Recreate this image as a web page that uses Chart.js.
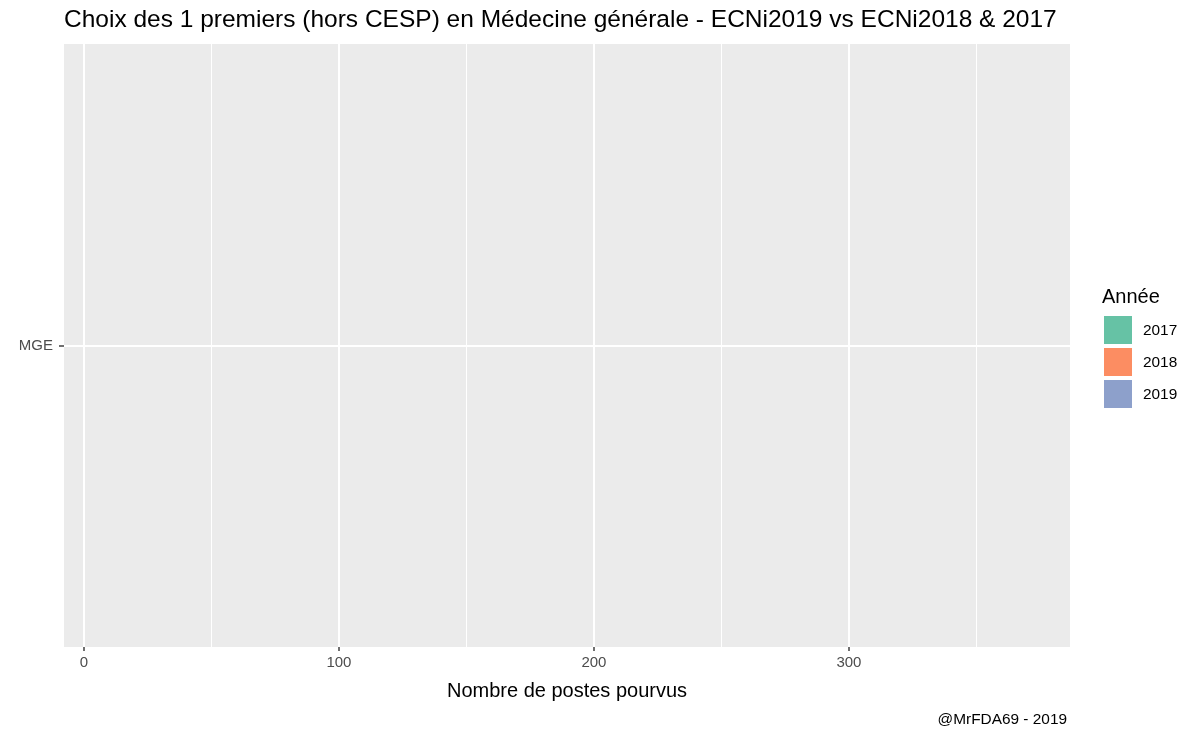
<!DOCTYPE html>
<html>
<head>
<meta charset="utf-8">
<script src="https://cdn.jsdelivr.net/npm/chart.js@4"></script>
<style>
  body { margin: 0; background: #fff; font-family: "Liberation Sans", Arial, sans-serif; }
  #wrap { position: relative; width: 1200px; height: 740px; }
  #title { position: absolute; left: 64px; top: 5px; font-size: 24.5px; color: #000; white-space: nowrap; }
  #caption { position: absolute; right: 133px; top: 710px; font-size: 15.4px; color: #000; }
  #legend { position: absolute; left: 1102px; top: 285px; }
  #legend .lt { font-size: 20px; color: #000; margin-bottom: 6px; }
  #legend .item { display: flex; align-items: center; height: 32px; }
  #legend .box { width: 28px; height: 28px; margin: 0 11px 0 2px; }
  #legend .lbl { font-size: 15.4px; color: #000; }
</style>
</head>
<body>
<div id="wrap">
  <canvas id="myChart" width="1200" height="740"></canvas>
  <div id="title">Choix des 1 premiers (hors CESP) en Médecine générale - ECNi2019 vs ECNi2018 &amp; 2017</div>
  <div id="legend"></div>
  <div id="caption">@MrFDA69 - 2019</div>
</div>
<script>
// data
const categories = ['MGE'];
const years = ['2017', '2018', '2019'];
const values2017 = [0];
const values2018 = [0];
const values2019 = [0];
const xTicks = [0, 50, 100, 150, 200, 250, 300, 350];
const xLabels = ['0', '', '100', '', '200', '', '300', ''];

const colors = ['#66C2A5', '#FC8D62', '#8DA0CB'];
const seriesValues = [values2017, values2018, values2019];

// legend
const legend = document.getElementById('legend');
legend.innerHTML = '<div class="lt">Année</div>' + years.map(function (y, i) {
  return '<div class="item"><div class="box" style="background:' + colors[i] + '"></div><span class="lbl">' + y + '</span></div>';
}).join('');

const panelBg = {
  id: 'panelBg',
  beforeDraw(chart) {
    const a = chart.chartArea;
    const c = chart.ctx;
    c.save();
    c.fillStyle = '#EBEBEB';
    c.fillRect(a.left, a.top, a.right - a.left, a.bottom - a.top);
    c.restore();
  }
};

function isMajor(v) { return v % 100 === 0; }

var ctx = document.getElementById('myChart').getContext('2d');
var chart = new Chart(ctx, {
  type: 'bar',
  data: {
    labels: categories,
    datasets: years.map(function (y, i) {
      return { label: y, data: seriesValues[i], backgroundColor: colors[i], borderWidth: 0 };
    })
  },
  plugins: [panelBg],
  options: {
    indexAxis: 'y',
    responsive: false,
    animation: false,
    layout: { padding: { left: 0, right: 130, top: 44, bottom: 37 } },
    plugins: { legend: { display: false }, tooltip: { enabled: false }, title: { display: false } },
    scales: {
      x: {
        type: 'linear',
        min: -7.8,
        max: 386.7,
        border: { display: false },
        afterBuildTicks: function (axis) { axis.ticks = xTicks.map(function (v) { return { value: v }; }); },
        afterFit: function (axis) { axis.height = 56; },
        grid: {
          color: '#FFFFFF',
          lineWidth: function (c) { return c.tick && isMajor(c.tick.value) ? 2 : 1; },
          tickColor: function (c) { return c.tick && isMajor(c.tick.value) ? '#333333' : 'rgba(0,0,0,0)'; },
          tickLength: 4,
          tickWidth: 1.4
        },
        ticks: {
          autoSkip: false,
          maxRotation: 0,
          padding: 3,
          color: '#4D4D4D',
          font: { family: 'Liberation Sans', size: 15 },
          callback: function (v, i) { return xLabels[i]; }
        },
        title: {
          display: true,
          text: 'Nombre de postes pourvus',
          color: '#000',
          font: { family: 'Liberation Sans', size: 20 },
          padding: 0
        }
      },
      y: {
        border: { display: false },
        afterFit: function (axis) { axis.width = 64; },
        grid: { offset: false, color: '#FFFFFF', lineWidth: 2, tickColor: '#333333', tickLength: 5, tickWidth: 1.4 },
        ticks: { color: '#4D4D4D', padding: 6, font: { family: 'Liberation Sans', size: 15 } }
      }
    }
  }
});
</script>
</body>
</html>
